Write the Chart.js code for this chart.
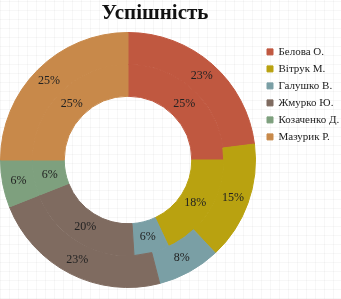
<!DOCTYPE html>
<html>
<head>
<meta charset="utf-8">
<script src="https://cdn.jsdelivr.net/npm/chart.js@4.4.0/dist/chart.umd.min.js"></script>
<style>
html,body{margin:0;padding:0;}
body{width:341px;height:299px;overflow:hidden;
background-color:#ffffff;
background-image:
 repeating-linear-gradient(0deg, rgba(0,0,0,0.03) 0px, rgba(0,0,0,0.03) 1px, transparent 1px, transparent 9px),
 repeating-linear-gradient(90deg, rgba(0,0,0,0.03) 0px, rgba(0,0,0,0.03) 1px, transparent 1px, transparent 9px);}
#wrap{position:relative;width:341px;height:299px;}
</style>
</head>
<body>
<div id="wrap"><canvas id="c" width="341" height="299"></canvas></div>
<script>
const chartTitle = 'Успішність';
const categories = ['Белова О.', 'Вітрук М.', 'Галушко В.', 'Жмурко Ю.', 'Козаченко Д.', 'Мазурик Р.'];
const outerValues = [23, 15, 8, 23, 6, 25];
const innerValues = [25, 18, 6, 20, 6, 25];
const sliceColors = ['#C05840', '#B9A210', '#7A9FA5', '#7F6B60', '#7EA07E', '#C8894A'];

const labelPlugin = {
  id: 'sliceLabels',
  afterDatasetsDraw(chart) {
    const ctx = chart.ctx;
    ctx.save();
    ctx.font = '12px "Liberation Serif", "DejaVu Serif", serif';
    ctx.fillStyle = '#222222';
    ctx.textAlign = 'center';
    ctx.textBaseline = 'middle';
    chart.data.datasets.forEach((ds, di) => {
      const meta = chart.getDatasetMeta(di);
      meta.data.forEach((arc, i) => {
        const p = arc.tooltipPosition();
        ctx.fillText(ds.data[i] + '%', p.x, p.y);
      });
    });
    ctx.restore();
  }
};

const titlePlugin = {
  id: 'customTitle',
  afterDraw(chart) {
    const ctx = chart.ctx;
    ctx.save();
    ctx.font = 'bold 21px "Liberation Serif", "DejaVu Serif", serif';
    ctx.fillStyle = '#111111';
    ctx.textAlign = 'center';
    ctx.textBaseline = 'middle';
    ctx.fillText(chartTitle, 155, 14);
    ctx.restore();
  }
};

const legendShift = {
  id: 'legendShift',
  afterLayout(chart) {
    if (chart.legend) {
      chart.legend.left += 5;
      chart.legend.right += 5;
    }
  }
};

new Chart(document.getElementById('c'), {
  type: 'doughnut',
  data: {
    labels: categories,
    datasets: [
      { data: outerValues, backgroundColor: sliceColors, borderColor: sliceColors, borderWidth: 1 },
      { data: innerValues, backgroundColor: sliceColors, borderColor: sliceColors, borderWidth: 1 }
    ]
  },
  options: {
    responsive: false,
    animation: false,
    cutout: '50%',
    layout: { padding: { top: 32, bottom: 11, left: 0, right: 0 } },
    plugins: {
      tooltip: { enabled: false },
      title: { display: false },
      legend: {
        position: 'right',
        align: 'start',
        maxWidth: 85,
        title: { display: true, text: ' ', font: { size: 2 }, padding: 3 },
        labels: {
          boxWidth: 6,
          boxHeight: 6,
          padding: 6,
          color: '#222222',
          font: { family: '"Liberation Serif", "DejaVu Serif", serif', size: 11 }
        }
      }
    }
  },
  plugins: [labelPlugin, titlePlugin, legendShift]
});
</script>
</body>
</html>
